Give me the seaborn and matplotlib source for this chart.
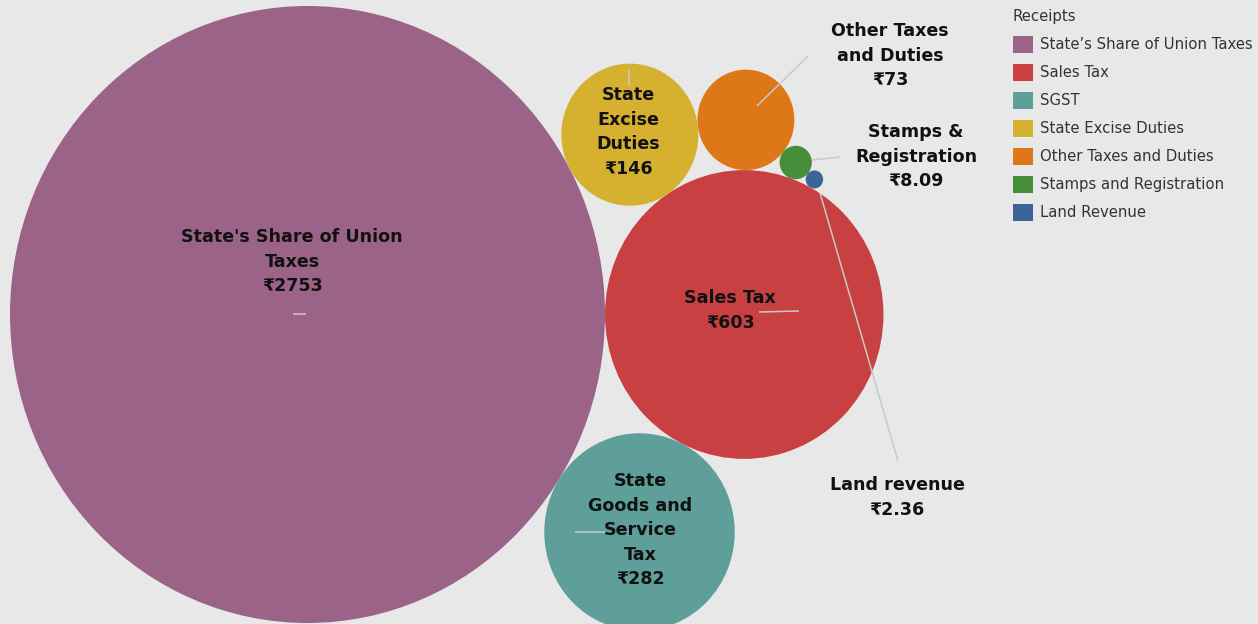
import numpy as np
import pandas as pd
import matplotlib
matplotlib.use("Agg")
import matplotlib.pyplot as plt
import seaborn as sns
from matplotlib.path import Path
from matplotlib.markers import MarkerStyle
from matplotlib.transforms import Affine2D
from matplotlib.patches import Patch

# ---------------- data ----------------
categories = ["State\u2019s Share of Union Taxes", "Sales Tax", "SGST",
              "State Excise Duties", "Other Taxes and Duties",
              "Stamps and Registration", "Land Revenue"]
values = [2753, 603, 282, 146, 73, 8.09, 2.36]
value_labels = ["\u20b92753", "\u20b9603", "\u20b9282", "\u20b9146", "\u20b973",
                "\u20b98.09", "\u20b92.36"]
bubble_titles = ["State's Share of Union\nTaxes", "Sales Tax",
                 "State\nGoods and\nService\nTax", "State\nExcise\nDuties",
                 "Other Taxes\nand Duties", "Stamps &\nRegistration",
                 "Land revenue"]
colors = ["#9b6387", "#c94043", "#5f9f99", "#d6b12f", "#dd7718",
          "#478e3a", "#3a6596"]

# ---------------- layout ----------------
W, H = 1258, 624
STRETCH = 1.037           # vertical stretch of the original render
K = 297.5 / np.sqrt(max(values))   # px of radius per sqrt(value)
radii = K * np.sqrt(np.array(values, dtype=float))


def tangent(a, ra, b, rb, rc, side):
    da, db = ra + rc, rb + rc
    d = np.linalg.norm(b - a)
    x = (da ** 2 - db ** 2 + d ** 2) / (2 * d)
    h = np.sqrt(max(da ** 2 - x ** 2, 0.0))
    u = (b - a) / d
    n = np.array([-u[1], u[0]])
    return a + x * u + side * h * n


# circle packing in un-stretched coordinates (y downward)
c = [None] * 7
c[0] = np.array([307.5, 314.5 / STRETCH])
c[1] = c[0] + np.array([radii[0] + radii[1], 0.0])
c[2] = tangent(c[0], radii[0], c[1], radii[1], radii[2], +1)
c[3] = tangent(c[0], radii[0], c[1], radii[1], radii[3], -1)
c[4] = tangent(c[3], radii[3], c[1], radii[1], radii[4], -1)
c[5] = tangent(c[4], radii[4], c[1], radii[1], radii[5], -1)
c[6] = tangent(c[5], radii[5], c[1], radii[1], radii[6], -1)
cx = [p[0] for p in c]
cy = [p[1] * STRETCH for p in c]

df = pd.DataFrame({"category": categories, "value": values, "x": cx, "y": cy})

sns.set_theme(style="white")
plt.rcParams["font.family"] = ["DejaVu Sans", "Noto Sans"]
BG = "#e8e8e8"

fig = plt.figure(figsize=(W / 100, H / 100), dpi=100, facecolor=BG)
ax = fig.add_axes([0, 0, 1, 1])
ax.set_facecolor(BG)
ax.set_xlim(0, W)
ax.set_ylim(H, 0)
ax.axis("off")

# ellipse marker (slightly taller than wide, as in the reference)
ell = Path.unit_circle().transformed(Affine2D().scale(1 / STRETCH, 1.0))
marker = MarkerStyle(ell)
pt_per_px = 72 / 100
s_max = (2 * radii[0] * STRETCH * pt_per_px) ** 2

sns.scatterplot(data=df, x="x", y="y", hue="category", palette=colors,
                hue_order=categories, size="value", sizes=(0, s_max),
                size_norm=(0, max(values)), marker=marker, linewidth=0,
                edgecolor="none", alpha=1, legend=False, ax=ax, zorder=2)

# leader lines (layout)
line_col = "#c9c9c9"
leaders = [((293, 314), (306, 314)), ((759, 312), (799, 311)),
           ((575, 532), (606, 532)), ((629, 70), (629, 86)),
           ((757, 106), (808, 56)), ((812, 160), (840, 157)),
           ((820, 193), (898, 461))]
for (x0, y0), (x1, y1) in leaders:
    ax.plot([x0, x1], [y0, y1], color=line_col, lw=1.1, zorder=3,
            solid_capstyle="butt")

# labels (layout positions: centre x, top-line y)
label_pos = [(292, 237), (730, 298), (640, 481), (628, 95), (890, 31),
             (916, 132), (897, 485)]
LS = 24.6
for title, val, (lx, ly) in zip(bubble_titles, value_labels, label_pos):
    lines = title.split("\n") + [val]
    for i, t in enumerate(lines):
        ax.text(lx, ly + i * LS, t, ha="center", va="center",
                fontsize=12.6, fontweight="bold", color="#111111", zorder=4)

# legend
FS = 10.7
handles = [Patch(facecolor=col, edgecolor="none") for col in colors]
leg = ax.legend(handles, categories, title="Receipts", loc="upper left",
                bbox_to_anchor=(1010 / W, 1 - 6.5 / H),
                bbox_transform=fig.transFigure, frameon=False,
                fontsize=FS, title_fontsize=FS, handlelength=1.34,
                handleheight=1.34, handletextpad=0.47, labelspacing=0.77,
                borderaxespad=0, borderpad=0.2, alignment="left")
for t in leg.get_texts():
    t.set_color("#333333")
leg.get_title().set_color("#333333")

fig.savefig("out.png", dpi=100, facecolor=BG)
